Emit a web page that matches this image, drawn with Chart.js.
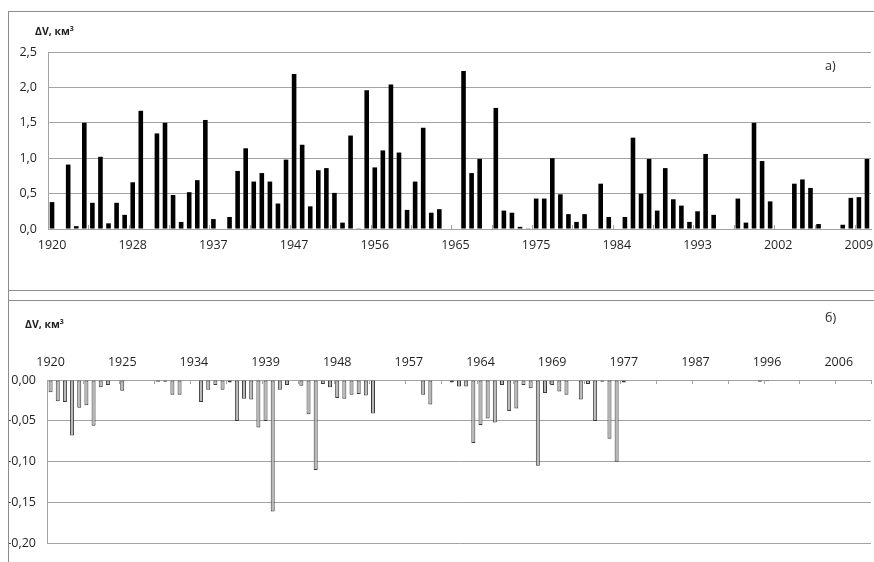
<!DOCTYPE html>
<html>
<head>
<meta charset="utf-8">
<script src="https://cdn.jsdelivr.net/npm/chart.js@4/dist/chart.umd.min.js"></script>
<style>
  html, body { margin: 0; padding: 0; background: #fff; }
  body { width: 874px; height: 562px; overflow: hidden; position: relative; font-family: 'Open Sans', sans-serif; color: #1f1f1f; }
  .frame { position: absolute; border: 1px solid #8c8c8c; box-sizing: border-box; }
  .wrap { position: absolute; }
  .note { position: absolute; white-space: nowrap; }
  .ytitle { font-size: 10.5px; font-weight: bold; }
  .ytitle sup { font-size: 7px; vertical-align: 4px; line-height: 0; }
  .tag { font-size: 12.5px; }
</style>
</head>
<body>
<div class="frame" style="left:8px;top:11px;width:900px;height:290px;"></div>
<div class="frame" style="left:8px;top:290px;width:900px;height:300px;"></div>

<div class="wrap" style="left:9px;top:12px;width:880px;height:278px;"><canvas id="topChart"></canvas></div>
<div class="wrap" style="left:9px;top:291px;width:880px;height:271px;"><canvas id="bottomChart"></canvas></div>

<div class="note ytitle" style="left:35px;top:24px;">ΔV, км<sup>3</sup></div>
<div class="note ytitle" style="left:25px;top:317px;">ΔV, км<sup>3</sup></div>
<div class="note tag" style="left:825px;top:57px;">а)</div>
<div class="note tag" style="left:825px;top:309px;">б)</div>

<script>
// panel а): one slot per bar, every 10th slot labelled
const topTickLabels = ['1920', '1928', '1937', '1947', '1956', '1965', '1975', '1984', '1993', '2002', '2009'];
const topValues = [
    0.38, null, 0.91, 0.04, 1.50, 0.37, 1.02, 0.08, 0.37, 0.20,
    0.66, 1.67, null, 1.35, 1.50, 0.48, 0.10, 0.52, 0.69, 1.54,
    0.14, null, 0.17, 0.82, 1.14, 0.67, 0.79, 0.67, 0.36, 0.98,
    2.19, 1.19, 0.32, 0.83, 0.86, 0.51, 0.09, 1.32, 0.01, 1.96,
    0.87, 1.11, 2.04, 1.08, 0.27, 0.67, 1.43, 0.23, 0.28, null,
    null, 2.23, 0.79, 0.99, null, 1.71, 0.26, 0.23, 0.03, 0.01,
    0.43, 0.43, 1.00, 0.49, 0.21, 0.10, 0.21, null, 0.64, 0.17,
    null, 0.17, 1.29, 0.50, 0.99, 0.26, 0.86, 0.42, 0.33, 0.10,
    0.25, 1.06, 0.20, null, null, 0.43, 0.09, 1.50, 0.96, 0.39,
    null, null, 0.64, 0.70, 0.58, 0.07, null, null, 0.06, 0.44,
    0.45, 0.99
];

// panel б)
const bottomTickLabels = ['1920', '1925', '1934', '1939', '1948', '1957', '1964', '1969', '1977', '1987', '1996', '2006'];
const bottomValues = [
    -0.015, -0.026, -0.027, -0.068, -0.034, -0.031, -0.056, -0.009, -0.006, null,
    -0.013, null, null, null, null, -0.002, -0.002, -0.018, -0.018, null,
    null, -0.027, -0.012, -0.006, -0.012, -0.003, -0.050, -0.023, -0.024, -0.058,
    -0.050, -0.161, -0.012, -0.006, null, -0.007, -0.042, -0.110, -0.005, -0.009,
    -0.022, -0.023, -0.018, -0.017, -0.019, -0.041, null, null, null, null,
    null, null, -0.018, -0.030, null, null, -0.003, -0.008, -0.008, -0.077,
    -0.055, -0.047, -0.052, -0.006, -0.038, -0.035, -0.006, -0.010, -0.105, -0.016,
    -0.006, -0.014, -0.018, null, -0.024, -0.005, -0.050, -0.002, -0.072, -0.100,
    -0.003, null, null, null, null, null, null, null, null, null,
    null, null, null, null, null, null, null, null, null, -0.002,
    -0.0015, null, null, null, null, null, null, null, null, null,
    null, null, null, null, null
];

function buildCategories(count, tickLabels, every) {
    const cats = [];
    for (let i = 0; i < count; i++) {
        cats.push(i % every === 0 && tickLabels[i / every] ? tickLabels[i / every] : '');
    }
    return cats;
}

Chart.defaults.font.family = "'Open Sans', sans-serif";
Chart.defaults.font.size = 12.5;
Chart.defaults.color = '#1f1f1f';
Chart.defaults.animation = false;

const gridGray = '#a3a3a3';

// short tick marks between categories, every 5th slot, pointing into the plot
const innerTicks = {
    id: 'innerTicks',
    afterDatasetsDraw(chart, args, opts) {
        const x = chart.scales.x, y = chart.scales.y;
        const base = y.getPixelForValue(0);
        const ctx = chart.ctx;
        ctx.save();
        ctx.strokeStyle = gridGray;
        ctx.lineWidth = 1;
        ctx.beginPath();
        for (let i = 0; i <= chart.data.labels.length; i += 5) {
            const px = Math.round(x.getPixelForValue(i - 0.5)) + 0.5;
            ctx.moveTo(px, base);
            ctx.lineTo(px, base + opts.dir * 4);
        }
        ctx.stroke();
        ctx.restore();
    }
};

function axisX(position, height, pad) {
    return {
        type: 'category',
        position: position,
        offset: true,
        grid: { display: false, drawTicks: false },
        border: { display: true, color: gridGray },
        ticks: { autoSkip: false, maxRotation: 0, minRotation: 0, padding: pad },
        afterFit: s => { s.height = height; }
    };
}

new Chart(document.getElementById('topChart'), {
    type: 'bar',
    data: {
        labels: buildCategories(topValues.length, topTickLabels, 10),
        datasets: [{
            data: topValues,
            backgroundColor: '#000',
            categoryPercentage: 1,
            barPercentage: 0.57
        }]
    },
    options: {
        responsive: true,
        maintainAspectRatio: false,
        layout: { padding: { top: 40, left: 0, right: 18, bottom: 0 } },
        plugins: { legend: { display: false }, tooltip: { enabled: false }, innerTicks: { dir: -1 } },
        scales: {
            x: axisX('bottom', 61, 9),
            y: {
                min: 0, max: 2.5,
                grid: { color: gridGray, drawTicks: false },
                border: { display: true, color: gridGray },
                ticks: { stepSize: 0.5, padding: 11, callback: v => v.toFixed(1).replace('.', ',') },
                afterFit: s => { s.width = 39; }
            }
        }
    },
    plugins: [innerTicks]
});

new Chart(document.getElementById('bottomChart'), {
    type: 'bar',
    data: {
        labels: buildCategories(bottomValues.length, bottomTickLabels, 10),
        datasets: [{
            data: bottomValues,
            backgroundColor: '#b8b8b8',
            borderColor: '#3a3a3a',
            borderWidth: 1,
            borderSkipped: false,
            categoryPercentage: 1,
            barPercentage: 0.56
        }]
    },
    options: {
        responsive: true,
        maintainAspectRatio: false,
        layout: { padding: { top: 40, left: 0, right: 18, bottom: 4 } },
        plugins: { legend: { display: false }, tooltip: { enabled: false }, innerTicks: { dir: 1 } },
        scales: {
            x: axisX('top', 49, 10.5),
            y: {
                min: -0.2, max: 0,
                grid: { color: gridGray, drawTicks: false },
                border: { display: true, color: gridGray },
                ticks: {
                    stepSize: 0.05, padding: 11,
                    callback: v => (Math.abs(v) < 1e-9 ? 0 : v).toFixed(2).replace('.', ',')
                },
                afterFit: s => { s.width = 38; }
            }
        }
    },
    plugins: [innerTicks]
});
</script>
</body>
</html>
